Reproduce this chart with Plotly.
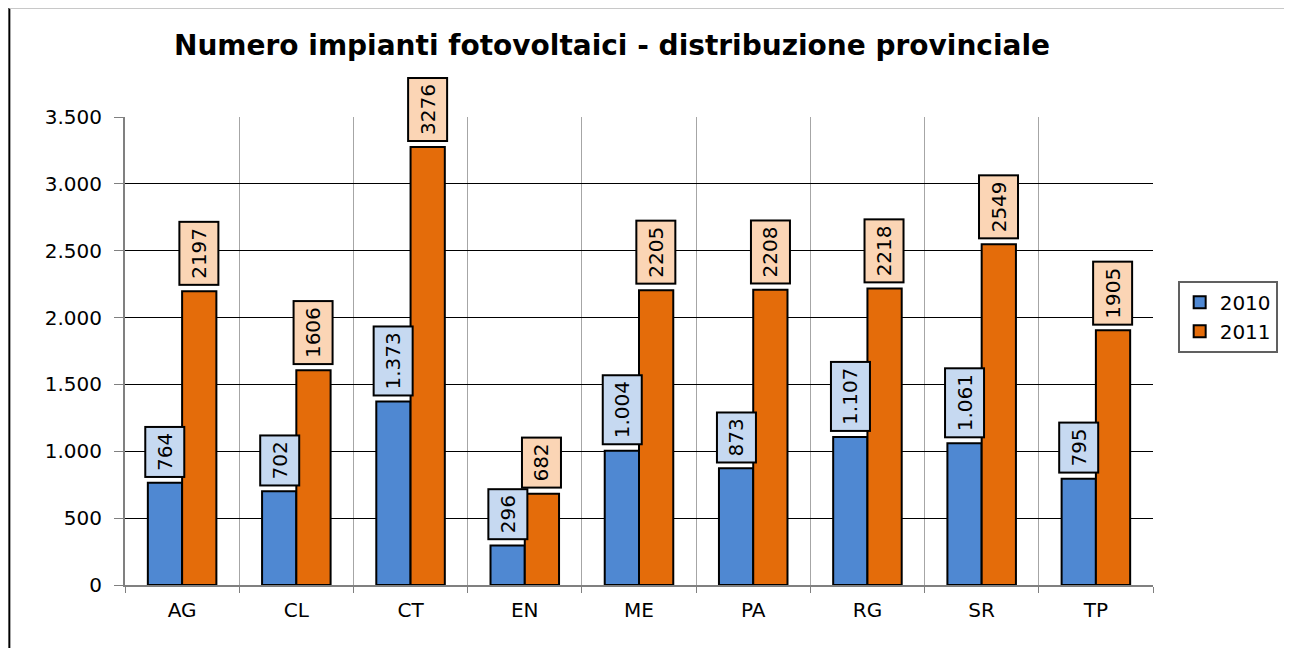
import plotly.graph_objects as go

province = ["AG", "CL", "CT", "EN", "ME", "PA", "RG", "SR", "TP"]
impianti_2010 = [764, 702, 1373, 296, 1004, 873, 1107, 1061, 795]
impianti_2011 = [2197, 1606, 3276, 682, 2205, 2208, 2218, 2549, 1905]

BLUE = "#4F88D2"
ORANGE = "#E46C0A"
BLUE_LABEL = "#C6D9F1"
ORANGE_LABEL = "#FBD5B5"
FONT = "DejaVu Sans, Arial, sans-serif"

fig = go.Figure()

fig.add_trace(go.Bar(
    x=province, y=impianti_2010, name="2010",
    marker=dict(color=BLUE, line=dict(color="black", width=2)),
    hoverinfo="skip",
))
fig.add_trace(go.Bar(
    x=province, y=impianti_2011, name="2011",
    marker=dict(color=ORANGE, line=dict(color="black", width=2)),
    hoverinfo="skip",
))

# rotated value boxes above each bar
annotations = []
for cat, v10, v11 in zip(province, impianti_2010, impianti_2011):
    for val, txt, bg, shift in [
        (v10, f"{v10:,}".replace(",", "."), BLUE_LABEL, -17),
        (v11, str(v11), ORANGE_LABEL, 17),
    ]:
        annotations.append(dict(
            x=cat, y=val, xref="x", yref="y",
            text=txt, textangle=-90, showarrow=False,
            xanchor="center", yanchor="bottom",
            xshift=shift, yshift=5,
            height=27, valign="middle",
            font=dict(family=FONT, size=20, color="black"),
            bgcolor=bg, bordercolor="black", borderwidth=2, borderpad=5,
        ))

# outer chart frame
shapes = [
    dict(type="line", xref="paper", yref="paper", x0=-0.1125, x1=-0.1125,
         y0=-0.2, y1=1.233, line=dict(color="black", width=2)),
    dict(type="line", xref="paper", yref="paper", x0=-0.1125, x1=1.133,
         y0=1.233, y1=1.233, line=dict(color="#C8C8C8", width=2)),
    dict(type="line", xref="paper", yref="paper", x0=1.133, x1=1.133,
         y0=-0.2, y1=1.233, line=dict(color="#C8C8C8", width=2)),
]

fig.update_layout(
    width=1292, height=648,
    barmode="group", bargap=0.4, bargroupgap=0,
    separators=",.",
    title=dict(
        text="<b>Numero impianti fotovoltaici - distribuzione provinciale</b>",
        font=dict(family=FONT, size=28, color="black"),
        x=604 / 1292, xanchor="center", xref="container",
        y=1 - 37 / 648, yanchor="middle", yref="container",
    ),
    xaxis=dict(
        tickson="boundaries", ticks="outside", ticklen=6, tickcolor="#808080",
        showgrid=True, gridcolor="#A6A6A6", gridwidth=1,
        showline=True, linecolor="#808080", linewidth=2, mirror=False,
        tickfont=dict(family=FONT, size=20, color="black"),
        ticklabelstandoff=6,
    ),
    yaxis=dict(
        range=[0, 3500], dtick=500, tickformat=",d",
        ticks="outside", ticklen=9, tickcolor="#808080",
        showgrid=True, gridcolor="black", gridwidth=1,
        showline=True, linecolor="#808080", linewidth=2,
        zeroline=False,
        tickfont=dict(family=FONT, size=20, color="black"),
        ticklabelstandoff=8,
    ),
    legend=dict(
        x=1.024, y=0.573, xanchor="left", yanchor="middle",
        bordercolor="#606060", borderwidth=2, bgcolor="white",
        font=dict(family=FONT, size=20, color="black"),
        itemwidth=30, tracegroupgap=6,
    ),
    plot_bgcolor="white", paper_bgcolor="white",
    margin=dict(l=117, r=147, t=109, b=71),
    annotations=annotations,
    shapes=shapes,
)

fig.write_html("out.html")
